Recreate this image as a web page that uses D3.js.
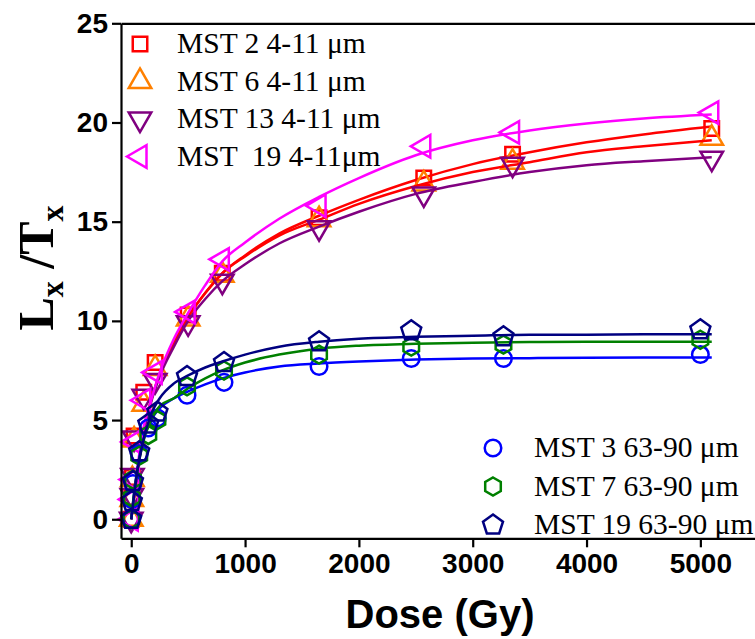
<!DOCTYPE html>
<html>
<head>
<meta charset="utf-8">
<script src="https://cdn.jsdelivr.net/npm/d3@7"></script>
<style>
  body { margin: 0; background: #fff; }
  .tick-label { font-family: Arial, "Liberation Sans", sans-serif; font-weight: bold; font-size: 28px; }
  .legend-label { font-family: "Times New Roman", "Liberation Serif", serif; font-size: 29.5px; white-space: pre; }
</style>
</head>
<body>
<div id="chart"></div>
<script>
// doses (Gy) of the measured points
const doseFine = [0, 5, 10, 25, 110, 210, 500, 800, 1650, 2570, 3350, 5100];
const doseCoarse = [0, 5, 15, 70, 150, 230, 490, 815, 1650, 2460, 3270, 5000];

// Lx/Tx of each aliquot
const mst2 = [0, 1.1, 2.1, 4.2, 6.4, 7.9, 10.3, 12.4, 15.2, 17.2, 18.4, 19.7];
const mst6 = [0, 1.0, 2.0, 4.0, 5.8, 7.6, 10.1, 12.3, 15.1, 16.9, 18.0, 19.2];
const mst13 = [0, 1.2, 2.2, 4.1, 6.2, 7.0, 9.9, 12.0, 14.7, 16.4, 17.9, 18.2];
const mst19 = [0, 1.0, 2.0, 3.9, 6.0, 7.4, 10.45, 13.1, 15.8, 18.8, 19.5, 20.5];
const mst3 = [0, 1.0, 1.8, 3.3, 4.6, 5.1, 6.25, 6.9, 7.7, 8.1, 8.1, 8.3];
const mst7 = [0, 1.1, 2.0, 3.2, 4.25, 5.0, 6.7, 7.5, 8.3, 8.7, 8.8, 9.05];
const mst19c = [0, 0.9, 1.9, 3.4, 4.8, 5.4, 7.2, 7.9, 8.95, 9.5, 9.2, 9.55];

// fitted growth curves
const fitDose = [0, 25, 50, 100, 175, 250, 375, 500, 650, 800, 1000, 1300, 1650, 2000, 2500, 3000, 3500, 4000, 4500, 5100];
const fit2 = [0, 1.1, 2.2, 4.2, 6.0, 7.3, 8.9, 10.2, 11.4, 12.4, 13.3, 14.4, 15.3, 16.1, 17.1, 17.9, 18.5, 19.0, 19.4, 19.8];
const fit6 = [0, 1.1, 2.2, 4.2, 6.0, 7.3, 8.9, 10.2, 11.4, 12.4, 13.25, 14.3, 15.1, 15.9, 16.8, 17.5, 18.0, 18.5, 18.8, 19.1];
const fit13 = [0, 1.1, 2.2, 4.1, 5.9, 7.2, 8.7, 10.0, 11.1, 12.0, 12.85, 13.9, 14.75, 15.5, 16.4, 17.0, 17.5, 17.85, 18.05, 18.25];
const fit19 = [0, 1.2, 2.4, 4.4, 6.0, 7.4, 9.1, 10.4, 11.8, 13.0, 13.95, 15.15, 16.25, 17.2, 18.35, 19.1, 19.6, 19.95, 20.2, 20.4];
const fit3 = [0, 1.3, 2.4, 3.9, 5.0, 5.6, 6.1, 6.45, 6.8, 7.1, 7.4, 7.7, 7.85, 7.95, 8.05, 8.1, 8.12, 8.14, 8.15, 8.15];
const fit7 = [0, 1.3, 2.3, 3.8, 5.0, 5.7, 6.1, 6.6, 7.1, 7.5, 7.9, 8.3, 8.6, 8.75, 8.85, 8.9, 8.93, 8.95, 8.95, 8.95];
const fit19c = [0, 1.2, 2.3, 3.8, 5.3, 6.1, 6.85, 7.25, 7.65, 7.95, 8.3, 8.7, 8.95, 9.1, 9.2, 9.25, 9.3, 9.3, 9.32, 9.33];

const xTicks = [0, 1000, 2000, 3000, 4000, 5000];
const yTicks = [0, 5, 10, 15, 20, 25];

const width = 755, height = 639;
const plot = { left: 121, top: 23.3, bottom: 538.3 };

const svg = d3.select("#chart")
    .append("svg")
    .attr("width", width)
    .attr("height", height);

const xScale = d3.scaleLinear()
    .domain([-90, 5480])
    .range([plot.left, 755]);

const yScale = d3.scaleLinear()
    .domain([-0.96, 25])
    .range([plot.bottom, plot.top]);

// regular polygon with a vertex on top
const polygon = (n, r) => {
    const pts = d3.range(n).map(i => {
        const a = -Math.PI / 2 + i * 2 * Math.PI / n;
        return [r * Math.cos(a), r * Math.sin(a)];
    });
    return "M" + pts.map(p => p.join(",")).join("L") + "Z";
};

const tri = d3.symbol().type(d3.symbolTriangle).size(220)();
const shapes = {
    square: { d: d3.symbol().type(d3.symbolSquare).size(210)(), rot: 0 },
    up: { d: tri, rot: 0 },
    down: { d: tri, rot: 180 },
    left: { d: tri, rot: -90 },
    circle: { d: d3.symbol().type(d3.symbolCircle).size(215)(), rot: 0 },
    hexagon: { d: polygon(6, 9), rot: 0 },
    pentagon: { d: polygon(5, 10.5), rot: 0 }
};

const series = [
    { name: "MST 2 4-11 μm", dose: doseFine, values: mst2, fit: fit2, shape: "square", color: "#ff0000", line: "#ff0000" },
    { name: "MST 6 4-11 μm", dose: doseFine, values: mst6, fit: fit6, shape: "up", color: "#ff8000", line: "#ff0000" },
    { name: "MST 13 4-11 μm", dose: doseFine, values: mst13, fit: fit13, shape: "down", color: "#800080", line: "#800080" },
    { name: "MST  19 4-11μm", dose: doseFine, values: mst19, fit: fit19, shape: "left", color: "#ff00ff", line: "#ff00ff" },
    { name: "MST 3 63-90 μm", dose: doseCoarse, values: mst3, fit: fit3, shape: "circle", color: "#0000ff", line: "#0000ff" },
    { name: "MST 7 63-90 μm", dose: doseCoarse, values: mst7, fit: fit7, shape: "hexagon", color: "#008000", line: "#008000" },
    { name: "MST 19 63-90 μm", dose: doseCoarse, values: mst19c, fit: fit19c, shape: "pentagon", color: "#000080", line: "#000080" }
];

const lineGen = d3.line()
    .x(d => xScale(d[0]))
    .y(d => yScale(d[1]))
    .curve(d3.curveMonotoneX);

const marks = svg.append("g");
series.forEach(s => {
    const sh = shapes[s.shape];
    marks.append("g").selectAll("path")
        .data(s.dose.map((d, i) => [d, s.values[i]]))
        .join("path")
        .attr("d", sh.d)
        .attr("transform", d => `translate(${xScale(d[0])},${yScale(d[1])}) rotate(${sh.rot})`)
        .attr("fill", "none")
        .attr("stroke", s.color)
        .attr("stroke-width", 2.5);

    marks.append("path")
        .datum(fitDose.map((d, i) => [d, s.fit[i]]))
        .attr("d", lineGen)
        .attr("fill", "none")
        .attr("stroke", s.line)
        .attr("stroke-width", 2.5);
});

// axes
const bottomAxis = d3.axisBottom(xScale)
    .tickValues(xTicks)
    .tickFormat(d3.format("d"))
    .tickSize(9).tickSizeOuter(0).tickPadding(6);
svg.append("g")
    .attr("transform", `translate(0, ${plot.bottom})`)
    .call(bottomAxis);

const leftAxis = d3.axisLeft(yScale).tickValues(yTicks).tickSize(9).tickSizeOuter(0).tickPadding(4);
svg.append("g")
    .attr("transform", `translate(${plot.left}, 0)`)
    .call(leftAxis);

// top frame line
const topAxis = d3.axisTop(xScale).tickValues([]).tickSizeOuter(0);
svg.append("g")
    .attr("transform", `translate(0, ${plot.top})`)
    .call(topAxis);

svg.selectAll(".domain").attr("stroke", "#000").attr("stroke-width", 2.2);
svg.selectAll(".tick line").attr("stroke", "#000").attr("stroke-width", 2.2);
svg.selectAll(".tick text")
    .attr("class", "tick-label")
    .attr("fill", "#000");

// axis titles
svg.append("text")
    .text("Dose (Gy)")
    .attr("x", 440)
    .attr("y", 628)
    .attr("text-anchor", "middle")
    .style("font-family", "Arial, 'Liberation Sans', sans-serif")
    .style("font-weight", "bold")
    .style("font-size", "40px");

const yLabel = svg.append("text")
    .attr("transform", "translate(53, 268) rotate(-90)")
    .attr("text-anchor", "middle")
    .style("font-family", "'Times New Roman', 'Liberation Serif', serif")
    .style("font-weight", "bold")
    .style("font-size", "50px");
yLabel.append("tspan").text("L");
yLabel.append("tspan").text("x").attr("dy", 10).style("font-size", "32px");
yLabel.append("tspan").text(" /").attr("dy", -10);
yLabel.append("tspan").text("T");
yLabel.append("tspan").text("x").attr("dy", 10).style("font-size", "32px");

// legends
const legendTop = svg.append("g").attr("transform", "translate(140, 44)");
series.slice(0, 4).forEach((s, i) => {
    const g = legendTop.append("g").attr("transform", `translate(0, ${i * 37.5})`);
    const sh = shapes[s.shape];
    g.append("path")
        .attr("d", sh.d)
        .attr("transform", `rotate(${sh.rot})`)
        .attr("fill", "none")
        .attr("stroke", s.color)
        .attr("stroke-width", 2.5);
    g.append("text")
        .attr("class", "legend-label")
        .attr("x", 37)
        .attr("y", 9)
        .text(s.name);
});

const legendBottom = svg.append("g").attr("transform", "translate(493, 448)");
series.slice(4).forEach((s, i) => {
    const g = legendBottom.append("g").attr("transform", `translate(0, ${i * 38.5})`);
    const sh = shapes[s.shape];
    g.append("path")
        .attr("d", sh.d)
        .attr("transform", `rotate(${sh.rot})`)
        .attr("fill", "none")
        .attr("stroke", s.color)
        .attr("stroke-width", 2.5);
    g.append("text")
        .attr("class", "legend-label")
        .attr("x", 41)
        .attr("y", 9)
        .text(s.name);
});
</script>
</body>
</html>
